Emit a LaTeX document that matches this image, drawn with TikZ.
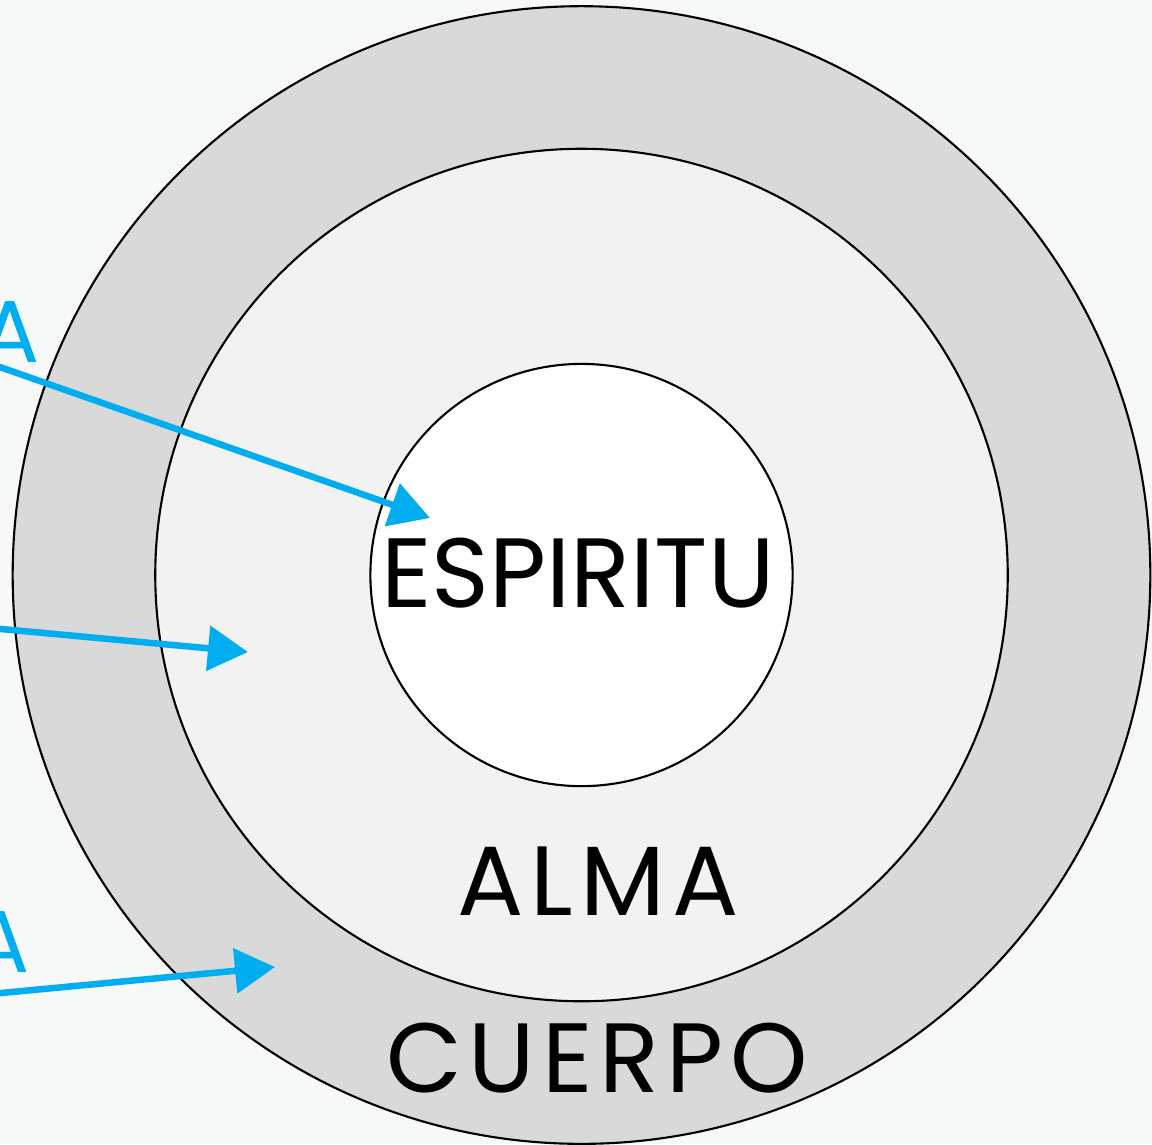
\documentclass[tikz,border=0pt]{standalone}
\usepackage{fontspec}
\setmainfont{Poppins}
\newfontfamily\espaciada{Poppins}[LetterSpace=7]
\usetikzlibrary{arrows.meta}
\definecolor{fondo}{HTML}{F7F9F9}
\definecolor{anillo}{HTML}{D9D9D9}
\definecolor{medio}{HTML}{F2F2F2}
\definecolor{azul}{HTML}{00AEEF}

\begin{document}
\begin{tikzpicture}[x=0.01cm,y=-0.01cm,
	disco/.style={circle, draw=black, line width=0.6pt, inner sep=0pt},
	rotulo/.style={font=\fontsize{28}{28}\selectfont, inner sep=0pt, anchor=base},
	flecha/.style={draw=azul, line width=0.065cm, -{Triangle[length=0.4cm,width=0.44cm]}}]
	
	\useasboundingbox[fill=fondo] (0,0) rectangle (1152,1144);
	
	\coordinate (c) at (581.5,575);
	\node[disco, fill=anillo, minimum size=11.37cm] (cuerpo) at (c) {};
	\node[disco, fill=medio, minimum size=8.52cm] (alma) at (c) {};
	\node[disco, fill=white, minimum size=4.22cm] (espiritu) at (c) {};
	
	\node[rotulo] (tespiritu) at (578,607) {ESPIRITU};
	\node[rotulo, font=\fontsize{28}{28}\espaciada] (talma) at (598,915) {ALMA};
	\node[rotulo, font=\fontsize{28}{28}\espaciada] (tcuerpo) at (597,1092) {CUERPO};
	
	\node[rotulo, anchor=base east, text=azul, font=\fontsize{25}{25}\selectfont] (a1) at (40,362) {A};
	\node[rotulo, anchor=base east, text=azul, font=\fontsize{25}{25}\selectfont] (a3) at (30,972) {A};
	
	\coordinate (s1) at (-20,360);
	\coordinate (e1) at (430,518);
	\coordinate (s2) at (-20,627);
	\coordinate (e2) at (248,652);
	\coordinate (s3) at (-20,995);
	\coordinate (e3) at (275,967);
	\draw[flecha] (s1) -- (e1);
	\draw[flecha] (s2) -- (e2);
	\draw[flecha] (s3) -- (e3);
	
\end{tikzpicture}
\end{document}
